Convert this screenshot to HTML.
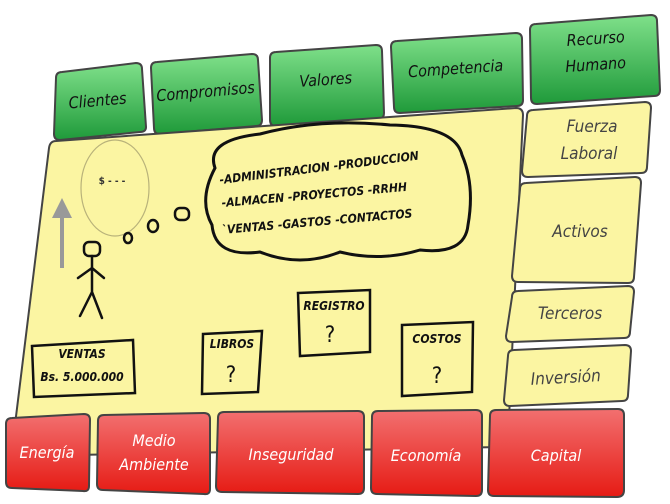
<!DOCTYPE html>
<html><head><meta charset="utf-8"><style>
body{margin:0;background:#fff;}
svg{display:block;}
text{font-family:"DejaVu Sans Condensed","DejaVu Sans","Liberation Sans",sans-serif;}
</style></head><body>
<svg width="670" height="504" viewBox="0 0 670 504" xmlns="http://www.w3.org/2000/svg">
<defs>
<linearGradient id="g" x1="0" y1="0" x2="0" y2="1"><stop offset="0" stop-color="#7fe08a"/><stop offset="1" stop-color="#1f9a3a"/></linearGradient>
<linearGradient id="r" x1="0" y1="0" x2="0" y2="1"><stop offset="0" stop-color="#f27070"/><stop offset="1" stop-color="#e61b14"/></linearGradient>
</defs>
<g stroke="#444" stroke-width="2" stroke-linejoin="round">
<path d="M62,72 L136,63 Q142,63 142,69 L146,127 Q146,132 140,132 L60,140 Q54,140 54,134 L56,78 Q56,72 62,72Z" fill="url(#g)"/>
<path d="M157,62 L252,54 Q258,54 258,60 L262,120 Q262,126 256,126 L160,134 Q154,134 154,128 L151,68 Q151,62 157,62Z" fill="url(#g)"/>
<path d="M276,52 L376,45 Q382,45 382,51 L384,113 Q384,119 378,119 L276,126 Q270,126 270,120 L270,58 Q270,52 276,52Z" fill="url(#g)"/>
<path d="M397,41 L516,33 Q522,33 522,39 L523,100 Q523,106 517,106 L400,113 Q394,113 394,107 L391,47 Q391,41 397,41Z" fill="url(#g)"/>
<path d="M536,24 L651,15 Q657,15 657,21 L660,90 Q660,96 654,96 L537,104 Q531,104 531,98 L530,30 Q530,24 536,24Z" fill="url(#g)"/>
<path d="M56,141 L516,108 Q523,108 523,115 L508,440 Q508,447 501,447 L19,456 Q12,456 12,449 L49,148 Q50,141 56,141Z" fill="#fbf5a2"/>
<path d="M533,110 L645,102 Q651,102 651,108 L647,167 Q647,173 641,173 L528,177 Q522,177 522,171 L527,116 Q527,110 533,110Z" fill="#fbf5a2"/>
<path d="M526,183 L635,177 Q641,177 641,183 L634,277 Q634,283 628,283 L518,282 Q512,282 512,276 L520,189 Q520,183 526,183Z" fill="#fbf5a2"/>
<path d="M518,291 L628,286 Q634,286 634,292 L630,332 Q630,338 624,338 L512,342 Q506,342 506,336 L512,297 Q512,291 518,291Z" fill="#fbf5a2"/>
<path d="M514,350 L625,345 Q631,345 631,351 L628,395 Q628,401 622,401 L510,406 Q504,406 504,400 L508,356 Q508,350 514,350Z" fill="#fbf5a2"/>
<path d="M12,418 L84,414 Q90,414 90,420 L89,486 Q89,492 83,491 L12,488 Q6,488 6,482 L6,424 Q6,418 12,418Z" fill="url(#r)"/>
<path d="M104,415 L204,413 Q210,413 210,419 L210,489 Q210,495 204,494 L103,490 Q97,490 97,484 L98,421 Q98,415 104,415Z" fill="url(#r)"/>
<path d="M224,412 L358,411 Q364,411 364,417 L364,488 Q364,494 358,494 L222,492 Q216,492 216,486 L218,418 Q218,412 224,412Z" fill="url(#r)"/>
<path d="M378,411 L476,410 Q482,410 482,416 L482,490 Q482,496 476,496 L377,494 Q371,494 371,488 L372,417 Q372,411 378,411Z" fill="url(#r)"/>
<path d="M496,410 L618,409 Q624,409 624,415 L624,490 Q624,497 617,497 L494,496 Q488,496 488,490 L490,416 Q490,410 496,410Z" fill="url(#r)"/>
</g>
<g font-style="italic" fill="#111" font-size="16" text-anchor="middle">
<text x="98" y="106" transform="rotate(-5 98 106)">Clientes</text>
<text x="206" y="97" transform="rotate(-5 206 97)">Compromisos</text>
<text x="326" y="85" transform="rotate(-4 326 85)">Valores</text>
<text x="456" y="74" transform="rotate(-4 456 74)">Competencia</text>
<text x="596" y="44" transform="rotate(-4 596 44)">Recurso</text>
<text x="596" y="70" transform="rotate(-4 596 70)">Humano</text>
</g>
<g font-style="italic" fill="#444" font-size="17" text-anchor="middle">
<text x="592" y="132">Fuerza</text>
<text x="589" y="159">Laboral</text>
<text x="580" y="237">Activos</text>
<text x="570" y="319">Terceros</text>
<text x="566" y="383" transform="rotate(-3 566 383)">Inversión</text>
</g>
<g font-style="italic" fill="#fff" font-size="16" text-anchor="middle">
<text x="47" y="458">Energía</text>
<text x="154" y="446">Medio</text>
<text x="154" y="470">Ambiente</text>
<text x="291" y="460">Inseguridad</text>
<text x="426" y="461">Economía</text>
<text x="556" y="461">Capital</text>
</g>
<ellipse cx="115" cy="188" rx="34" ry="48" fill="none" stroke="#b8b27a" stroke-width="1.2"/>
<text x="112" y="184" font-size="10" font-weight="bold" fill="#333" text-anchor="middle">$ - - -</text>
<path d="M60,268 L60,218 L52,218 L62,198 L72,218 L64,218 L64,268Z" fill="#999"/>
<g stroke="#111" stroke-width="2.5" fill="none" stroke-linecap="round">
<rect x="84" y="242" width="16" height="14" rx="5"/>
<path d="M92,256 L92,292 M92,268 L78,278 M92,268 L104,278 M92,292 L80,316 M92,292 L102,318"/>
<ellipse cx="128" cy="238" rx="4" ry="5"/><ellipse cx="153" cy="226" rx="5" ry="6"/><rect x="175" y="208" width="14" height="12" rx="5"/>
<path d="M215,168 Q205,140 260,134 Q320,118 390,125 Q455,126 462,155 Q475,185 468,225 Q465,255 420,250 Q380,262 340,252 Q300,268 260,252 Q215,258 212,225 Q198,200 215,168Z" stroke-width="3"/>
<path d="M32,346 L133,340 L135,393 L34,397Z"/>
<path d="M203,334 L262,331 L258,392 L202,394Z"/>
<path d="M298,293 L370,290 L370,352 L300,356Z"/>
<path d="M402,325 L473,322 L472,392 L402,396Z"/>
</g>
<g font-weight="bold" fill="#111" font-size="12" font-style="italic">
<text x="220" y="184" transform="rotate(-7 220 184)">-ADMINISTRACION -PRODUCCION</text>
<text x="222" y="207" transform="rotate(-5 222 207)">-ALMACEN -PROYECTOS -RRHH</text>
<text x="222" y="234" transform="rotate(-5 222 234)">`VENTAS  -GASTOS -CONTACTOS</text>
<text x="82" y="358" text-anchor="middle">VENTAS</text>
<text x="82" y="381" text-anchor="middle">Bs. 5.000.000</text>
<text x="232" y="348" text-anchor="middle">LIBROS</text>
<text x="334" y="310" text-anchor="middle">REGISTRO</text>
<text x="437" y="343" text-anchor="middle">COSTOS</text>
</g>
<g font-size="22" fill="#111" text-anchor="middle">
<text x="231" y="382">?</text><text x="330" y="342">?</text><text x="437" y="383">?</text>
</g>
</svg>
</body></html>
